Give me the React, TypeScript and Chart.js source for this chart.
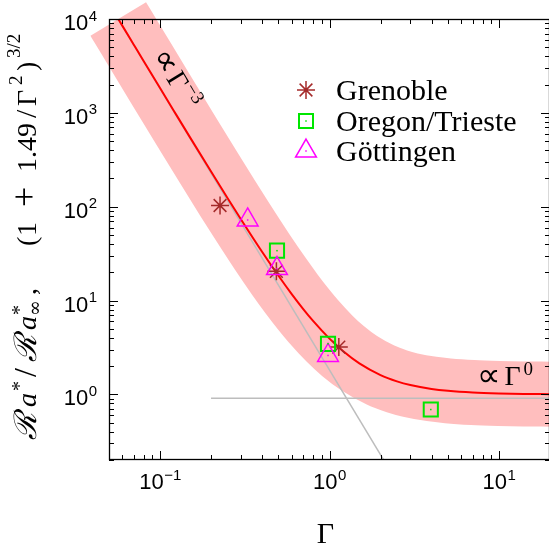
import React, { useEffect, useRef } from "react";
import { Chart, registerables } from "chart.js";

Chart.register(...registerables);

// Model curve (1 + 1.49/Γ²)^(3/2), sampled along Γ
const curveGamma = [0.0567, 0.06, 0.07, 0.08, 0.1, 0.12, 0.15, 0.2, 0.25, 0.3, 0.4, 0.5, 0.6, 0.7, 0.8, 1.0, 1.2, 1.5, 2, 2.5, 3, 4, 5, 7, 10, 14, 20];
const curveValue = [10000, 8451, 5329, 3575, 1837, 1068, 551, 236.6, 123.8, 73.6, 33.1, 18.36, 11.65, 8.12, 6.07, 3.93, 2.9, 2.143, 1.608, 1.378, 1.258, 1.143, 1.091, 1.046, 1.0225, 1.0114, 1.0056];

// Asymptotes: ∝ Γ^-3 and ∝ Γ^0
const steepGamma = [0.05, 2.2];
const steepValue = [14550, 0.171];
const flatGamma = [0.2, 20];
const flatValue = [0.91, 0.91];

// Experiments
const grenobleGamma = [0.226, 0.486, 1.135];
const grenobleValue = [103, 20.5, 3.19];
const oregonGamma = [0.49, 0.98, 3.96];
const oregonValue = [34, 3.46, 0.69];
const gottingenGamma = [0.329, 0.49, 0.98];
const gottingenValue = [72.2, 21.9, 2.6];

// Axis decades and their exponent labels
const xDecades = [0.1, 1, 10];
const xExponents = ["\u22121", "0", "1"];
const yDecades = [1, 10, 100, 1000, 10000];
const yExponents = ["0", "1", "2", "3", "4"];

const X_MIN = 0.05;
const X_MAX = 20;
const Y_MIN = 0.2;
const Y_MAX = 10000;

const pts = (xs: number[], ys: number[]) => xs.map((x, i) => ({ x, y: ys[i] }));

const SERIF = "'Liberation Serif', 'DejaVu Serif', serif";
const DSERIF = "'DejaVu Serif', serif";
const SANS = "'Liberation Sans', Arial, sans-serif";

// a piece of math text: glyphs placed at an offset along the baseline
type Seg = { t: string; font: string; at: number; dy?: number };

function drawMath(ctx: CanvasRenderingContext2D, segs: Seg[], x: number, y: number) {
  for (const s of segs) {
    ctx.font = s.font;
    ctx.fillText(s.t, x + s.at, y + (s.dy || 0));
  }
}

function minorTicks(min: number, max: number) {
  const out: { v: number; major: boolean }[] = [];
  for (let e = Math.floor(Math.log10(min)); e <= Math.ceil(Math.log10(max)); e++) {
    for (let m = 1; m <= 9; m++) {
      const v = m * Math.pow(10, e);
      if (v >= min * 0.999 && v <= max * 1.001) out.push({ v, major: m === 1 });
    }
  }
  return out;
}

const framePlugin = {
  id: "frameTicks",
  afterDatasetsDraw(chart: any) {
    const { ctx, chartArea: a, scales } = chart;
    const xs = scales.x;
    const ys = scales.y;
    ctx.save();
    ctx.strokeStyle = "#000";
    ctx.lineWidth = 1;
    ctx.beginPath();
    for (const t of minorTicks(X_MIN, X_MAX)) {
      const px = Math.round(xs.getPixelForValue(t.v)) + 0.5;
      const len = t.major ? 9 : 5;
      ctx.moveTo(px, a.bottom);
      ctx.lineTo(px, a.bottom - len);
      ctx.moveTo(px, a.top);
      ctx.lineTo(px, a.top + len);
    }
    for (const t of minorTicks(Y_MIN, Y_MAX)) {
      const py = Math.round(ys.getPixelForValue(t.v)) + 0.5;
      const len = t.major ? 9 : 5;
      ctx.moveTo(a.left, py);
      ctx.lineTo(a.left + len, py);
      ctx.moveTo(a.right, py);
      ctx.lineTo(a.right - len, py);
    }
    ctx.stroke();
    ctx.lineWidth = 1.3;
    ctx.strokeRect(a.left + 0.5, a.top + 0.5, a.right - a.left - 1, a.bottom - a.top - 1);
    ctx.restore();

    // small dots at marker centres
    chart.data.datasets.forEach((ds: any, i: number) => {
      if (!ds.centerDot) return;
      const meta = chart.getDatasetMeta(i);
      ctx.save();
      ctx.fillStyle = ds.borderColor;
      for (const el of meta.data) ctx.fillRect(el.x - 0.75, el.y - 0.75, 1.5, 1.5);
      ctx.restore();
    });
  },
  afterDraw(chart: any) {
    const { ctx, chartArea: a, scales } = chart;
    const xs = scales.x;
    const ys = scales.y;
    ctx.save();
    ctx.fillStyle = "#000";
    ctx.textBaseline = "alphabetic";
    ctx.textAlign = "left";

    const big = `22px ${SANS}`;
    const small = `15px ${SANS}`;
    // x tick labels
    xDecades.forEach((v, i) => {
      ctx.font = big;
      const w1 = ctx.measureText("10").width;
      ctx.font = small;
      const w2 = ctx.measureText(xExponents[i]).width;
      const px = xs.getPixelForValue(v);
      const x0 = px - (w1 + w2) / 2;
      const base = a.bottom + 29;
      ctx.font = big;
      ctx.fillText("10", x0, base);
      ctx.font = small;
      ctx.fillText(xExponents[i], x0 + w1 + 0.5, base - 9);
    });
    // y tick labels
    yDecades.forEach((v, i) => {
      ctx.font = big;
      const w1 = ctx.measureText("10").width;
      ctx.font = small;
      const w2 = ctx.measureText(yExponents[i]).width;
      const py = ys.getPixelForValue(v);
      const right = a.left - 12;
      const x0 = right - w1 - w2 - 0.5;
      const base = py + 11;
      ctx.font = big;
      ctx.fillText("10", x0, base);
      ctx.font = small;
      ctx.fillText(yExponents[i], x0 + w1 + 0.5, base - 9.5);
    });

    // x title
    ctx.font = `30px ${SERIF}`;
    ctx.textAlign = "center";
    ctx.fillText("\u0393", (a.left + a.right) / 2 - 4, 543);
    ctx.textAlign = "left";

    // y title, rotated
    const F = `28px ${SERIF}`;
    const FI = `italic 28px ${SERIF}`;
    const S = `19px ${SERIF}`;
    const R = `italic 31px ${DSERIF}`;
    ctx.save();
    ctx.translate(36, 440);
    ctx.rotate(-Math.PI / 2);
    drawMath(
      ctx,
      [
        { t: "\u211B", font: R, at: 0 },
        { t: "a", font: FI, at: 33 },
        { t: "*", font: `20px ${SERIF}`, at: 49, dy: -10 },
        { t: "/", font: `32px ${SERIF}`, at: 63 },
        { t: "\u211B", font: R, at: 78 },
        { t: "a", font: FI, at: 110 },
        { t: "*", font: `20px ${SERIF}`, at: 125, dy: -10 },
        { t: "\u221E", font: `19px ${DSERIF}`, at: 124, dy: 5 },
        { t: ",", font: F, at: 145 },
        { t: "(", font: F, at: 194 },
        { t: "1", font: F, at: 204 },
        { t: "+", font: `36px ${SERIF}`, at: 233 },
        { t: "1.49", font: F, at: 268 },
        { t: "/", font: `30px ${SERIF}`, at: 322 },
        { t: "\u0393", font: F, at: 334 },
        { t: "2", font: S, at: 355, dy: -14 },
        { t: ")", font: F, at: 369 },
        { t: "3/2", font: S, at: 382, dy: -16 },
      ],
      0,
      0
    );
    ctx.restore();

    // ∝ Γ^-3 along the steep asymptote
    const p1 = { x: xs.getPixelForValue(steepGamma[0]), y: ys.getPixelForValue(steepValue[0]) };
    const p2 = { x: xs.getPixelForValue(steepGamma[1]), y: ys.getPixelForValue(steepValue[1]) };
    const ang = Math.atan2(p2.y - p1.y, p2.x - p1.x);
    const prop = [
      { t: "\u221D", font: `200 33px 'DejaVu Sans', sans-serif`, at: 0, dy: 1 },
      { t: "\u0393", font: F, at: 27 },
    ];
    ctx.save();
    ctx.translate(xs.getPixelForValue(0.0894), ys.getPixelForValue(4130));
    ctx.rotate(ang);
    drawMath(ctx, [...prop, { t: "\u22123", font: S, at: 45, dy: -11 }], 0, 0);
    ctx.restore();

    // ∝ Γ^0 along the flat asymptote
    drawMath(ctx, [...prop, { t: "0", font: S, at: 46, dy: -10 }], xs.getPixelForValue(7.46), ys.getPixelForValue(1.26));

    // legend
    const lx = 306;
    const rows = [90, 121, 151];
    const labels = ["Grenoble", "Oregon/Trieste", "G\u00F6ttingen"];
    ctx.lineWidth = 1.5;
    // star
    ctx.strokeStyle = "#a52a2a";
    ctx.beginPath();
    const r = 9;
    for (let k = 0; k < 4; k++) {
      const t = (k * Math.PI) / 4;
      ctx.moveTo(lx - r * Math.cos(t), rows[0] - r * Math.sin(t));
      ctx.lineTo(lx + r * Math.cos(t), rows[0] + r * Math.sin(t));
    }
    ctx.stroke();
    // square
    ctx.strokeStyle = "#00e600";
    ctx.lineWidth = 2;
    ctx.strokeRect(lx - 7, rows[1] - 7, 14, 14);
    ctx.fillStyle = "#00e600";
    ctx.fillRect(lx - 0.75, rows[1] - 0.75, 1.5, 1.5);
    // triangle
    ctx.strokeStyle = "#ff00ff";
    ctx.lineWidth = 1.5;
    const tr = 12;
    ctx.beginPath();
    for (let k = 0; k < 3; k++) {
      const t = (k * 2 * Math.PI) / 3;
      const px = lx + tr * Math.sin(t);
      const py = rows[2] - tr * Math.cos(t);
      if (k === 0) ctx.moveTo(px, py);
      else ctx.lineTo(px, py);
    }
    ctx.closePath();
    ctx.stroke();
    ctx.fillStyle = "#ff00ff";
    ctx.fillRect(lx - 0.75, rows[2] - 0.75, 1.5, 1.5);

    ctx.fillStyle = "#000";
    ctx.font = `30px ${SERIF}`;
    labels.forEach((s, i) => ctx.fillText(s, 336, rows[i] + 10));
    ctx.restore();
  },
};

export default function App() {
  const ref = useRef<HTMLCanvasElement>(null);

  useEffect(() => {
    const canvas = ref.current;
    if (!canvas) return;
    const chart = new Chart(canvas, {
      type: "scatter",
      data: {
        datasets: [
          {
            label: "band",
            data: pts(curveGamma, curveValue),
            showLine: true,
            borderColor: "#ffbebe",
            borderWidth: 65,
            borderCapStyle: "butt",
            borderJoinStyle: "round",
            cubicInterpolationMode: "monotone",
            pointRadius: 0,
            clip: false,
            order: 10,
          } as any,
          {
            label: "steep",
            data: pts(steepGamma, steepValue),
            showLine: true,
            borderColor: "#bdbdbd",
            borderWidth: 1.5,
            pointRadius: 0,
            clip: 0,
            order: 9,
          } as any,
          {
            label: "flat",
            data: pts(flatGamma, flatValue),
            showLine: true,
            borderColor: "#bdbdbd",
            borderWidth: 1.5,
            pointRadius: 0,
            clip: 0,
            order: 9,
          } as any,
          {
            label: "model",
            data: pts(curveGamma, curveValue),
            showLine: true,
            borderColor: "#ff0000",
            borderWidth: 2,
            cubicInterpolationMode: "monotone",
            pointRadius: 0,
            clip: 0,
            order: 8,
          } as any,
          {
            label: "Grenoble",
            data: pts(grenobleGamma, grenobleValue),
            pointStyle: "star",
            pointRadius: 9,
            borderColor: "#a52a2a",
            backgroundColor: "rgba(0,0,0,0)",
            borderWidth: 1.5,
            order: 3,
          } as any,
          {
            label: "Oregon/Trieste",
            data: pts(oregonGamma, oregonValue),
            pointStyle: "rect",
            pointRadius: 10,
            borderColor: "#00e600",
            backgroundColor: "rgba(0,0,0,0)",
            borderWidth: 2,
            centerDot: true,
            order: 2,
          } as any,
          {
            label: "G\u00F6ttingen",
            data: pts(gottingenGamma, gottingenValue),
            pointStyle: "triangle",
            pointRadius: 12,
            borderColor: "#ff00ff",
            backgroundColor: "rgba(0,0,0,0)",
            borderWidth: 1.5,
            centerDot: true,
            order: 1,
          } as any,
        ],
      },
      options: {
        responsive: false,
        animation: false,
        events: [],
        layout: { autoPadding: false, padding: { top: 19, right: 2, left: 0, bottom: 0 } },
        plugins: { legend: { display: false }, tooltip: { enabled: false } },
        scales: {
          x: {
            type: "logarithmic",
            min: X_MIN,
            max: X_MAX,
            ticks: { display: false },
            grid: { display: false },
            border: { display: false },
            afterFit: (s: any) => {
              s.height = 87;
            },
          },
          y: {
            type: "logarithmic",
            min: Y_MIN,
            max: Y_MAX,
            ticks: { display: false },
            grid: { display: false },
            border: { display: false },
            afterFit: (s: any) => {
              s.width = 109;
            },
          },
        },
      } as any,
      plugins: [framePlugin],
    });
    return () => chart.destroy();
  }, []);

  return (
    <div style={{ position: "fixed", left: 0, top: 0, width: 552, height: 547, background: "#fff" }}>
      <canvas ref={ref} width={552} height={547} style={{ display: "block", width: 552, height: 547 }} />
    </div>
  );
}
